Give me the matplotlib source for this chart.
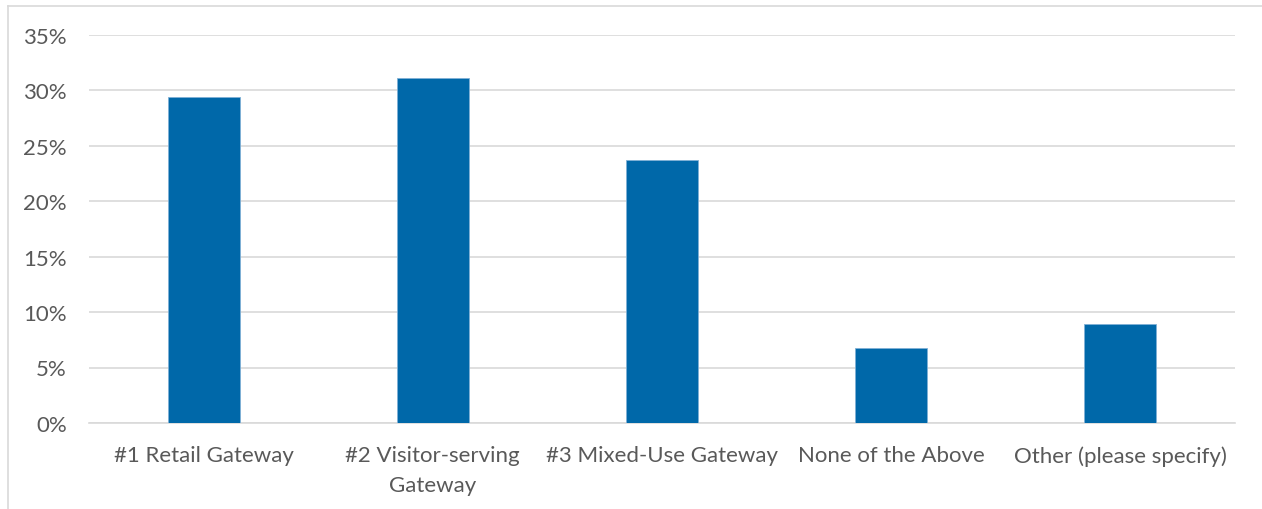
import matplotlib
matplotlib.use("Agg")
import matplotlib.pyplot as plt
from matplotlib.lines import Line2D
from matplotlib.ticker import MultipleLocator, FuncFormatter

categories = ["#1 Retail Gateway", "#2 Visitor-serving\nGateway", "#3 Mixed-Use Gateway",
              "None of the Above", "Other (please specify)"]
values = [29.35, 31.05, 23.7, 6.75, 8.95]

plt.rcParams['font.family'] = ['Lato', 'DejaVu Sans']

W, H = 1262, 510
fig = plt.figure(figsize=(W / 100, H / 100), dpi=100)
ax = fig.add_axes([89 / W, 1 - 424 / H, (1235 - 89) / W, (424 - 35.5) / H])

x = list(range(len(categories)))
ax.bar(x, values, width=0.315, color="#0068A9", edgecolor="#7FB0D6", linewidth=0.6, zorder=3)

ax.set_xlim(-0.5, len(categories) - 0.5)
ax.set_ylim(0, 35)
ax.yaxis.set_major_locator(MultipleLocator(5))
ax.yaxis.set_major_formatter(FuncFormatter(lambda v, p: f"{v:.0f}%"))
ax.grid(axis="y", color="#D9D9D9", linewidth=1.2, zorder=0)
for s in ["top", "right", "left"]:
    ax.spines[s].set_visible(False)
ax.spines["bottom"].set_color("#D9D9D9")
ax.spines["bottom"].set_linewidth(1.2)
ax.set_xticks(x)
ax.set_xticklabels(categories, fontsize=16, color="#595959", linespacing=1.6)
ax.tick_params(axis="both", length=0, colors="#595959", labelsize=16)
ax.tick_params(axis="x", pad=16)
ax.tick_params(axis="y", pad=16)

# outer chart frame (partially visible)
fig.add_artist(Line2D([7.5 / W, 7.5 / W], [0, 1 - 6.5 / H], transform=fig.transFigure,
                      color="#D9D9D9", linewidth=1.2))
fig.add_artist(Line2D([7.5 / W, 1], [1 - 6.5 / H, 1 - 6.5 / H], transform=fig.transFigure,
                      color="#D9D9D9", linewidth=1.2))

fig.savefig("out.png", dpi=100)
